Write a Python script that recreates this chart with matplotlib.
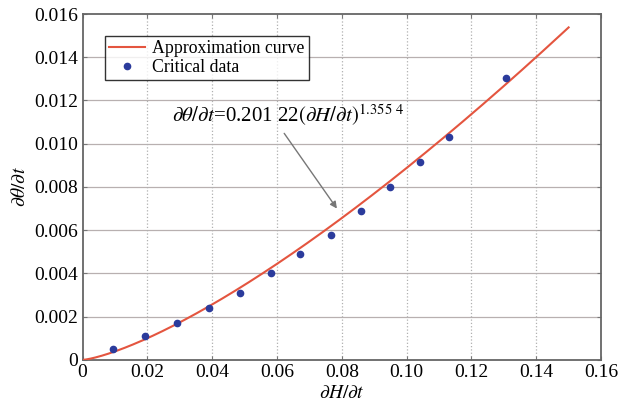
import numpy as np
import matplotlib
matplotlib.use("Agg")
import matplotlib.pyplot as plt

plt.rcParams['font.family'] = ['Liberation Serif', 'DejaVu Serif']
plt.rcParams['mathtext.fontset'] = 'stix'

# Data
x_data = [0.0095, 0.0193, 0.0292, 0.0390, 0.0486, 0.0582, 0.0671,
          0.0767, 0.0859, 0.0949, 0.1041, 0.1131, 0.1307]
y_data = [0.00052, 0.00112, 0.00172, 0.00240, 0.00310, 0.00400, 0.00490,
          0.00580, 0.00690, 0.00800, 0.00915, 0.01030, 0.01302]
coef_a = 0.20122
coef_b = 1.3554
x_max_curve = 0.15
x_ticks = [0, 0.02, 0.04, 0.06, 0.08, 0.10, 0.12, 0.14, 0.16]
x_tick_labels = ['0', '0.02', '0.04', '0.06', '0.08', '0.10', '0.12', '0.14', '0.16']
y_ticks = [0, 0.002, 0.004, 0.006, 0.008, 0.010, 0.012, 0.014, 0.016]
y_tick_labels = ['0', '0.002', '0.004', '0.006', '0.008', '0.010', '0.012', '0.014', '0.016']

fig = plt.figure(figsize=(6.3, 4.18), dpi=100)
ax = fig.add_axes([0.131, 0.139, 0.823, 0.8275])

xc = np.linspace(0, x_max_curve, 300)
yc = coef_a * xc ** coef_b
ax.plot(xc, yc, color='#e4553f', lw=1.5, label='Approximation curve', zorder=3)
ax.plot(x_data, y_data, linestyle='none', marker='o', ms=4.5, color='#2b3b9c',
        label='Critical data', zorder=4)

ax.set_xlim(0, 0.16)
ax.set_ylim(0, 0.016)
ax.set_xticks(x_ticks)
ax.set_xticklabels(x_tick_labels)
ax.set_yticks(y_ticks)
ax.set_yticklabels(y_tick_labels)
ax.tick_params(direction='in', length=3, labelsize=14, top=True, right=True,
               color='#777777', pad=3)

for v in y_ticks[1:-1]:
    ax.axhline(v, color='#b8b0b0', lw=0.9, zorder=1)
for v in x_ticks[1:-1]:
    ax.axvline(v, color='#b0b0b0', lw=0.9, ls=':', zorder=1)

for s in ax.spines.values():
    s.set_color('#666666')
    s.set_linewidth(1.3)

ax.set_xlabel(r'$\partial H/\partial t$', fontsize=14, labelpad=3)
ax.set_ylabel(r'$\partial\theta/\partial t$', fontsize=14, labelpad=4)

leg = ax.legend(loc='upper left', bbox_to_anchor=(0.043, 0.937), fontsize=12.8,
                frameon=True, fancybox=False, borderpad=0.25, labelspacing=0.1,
                handlelength=2.0, handletextpad=0.4, borderaxespad=0.0)
leg.get_frame().set_edgecolor('black')
leg.get_frame().set_linewidth(1.0)

ax.annotate(r'$\partial\theta/\partial t$=0.201 22$(\partial H/\partial t)^{1.355\ 4}$',
            xy=(0.0785, 0.00700), xytext=(0.0275, 0.01130),
            fontsize=15, va='center', ha='left',
            arrowprops=dict(arrowstyle='-|>', color='#777777', lw=1.0,
                            shrinkA=2, shrinkB=0,
                            relpos=(0.47, 0.0), mutation_scale=10))

fig.savefig('out.png', dpi=100)
